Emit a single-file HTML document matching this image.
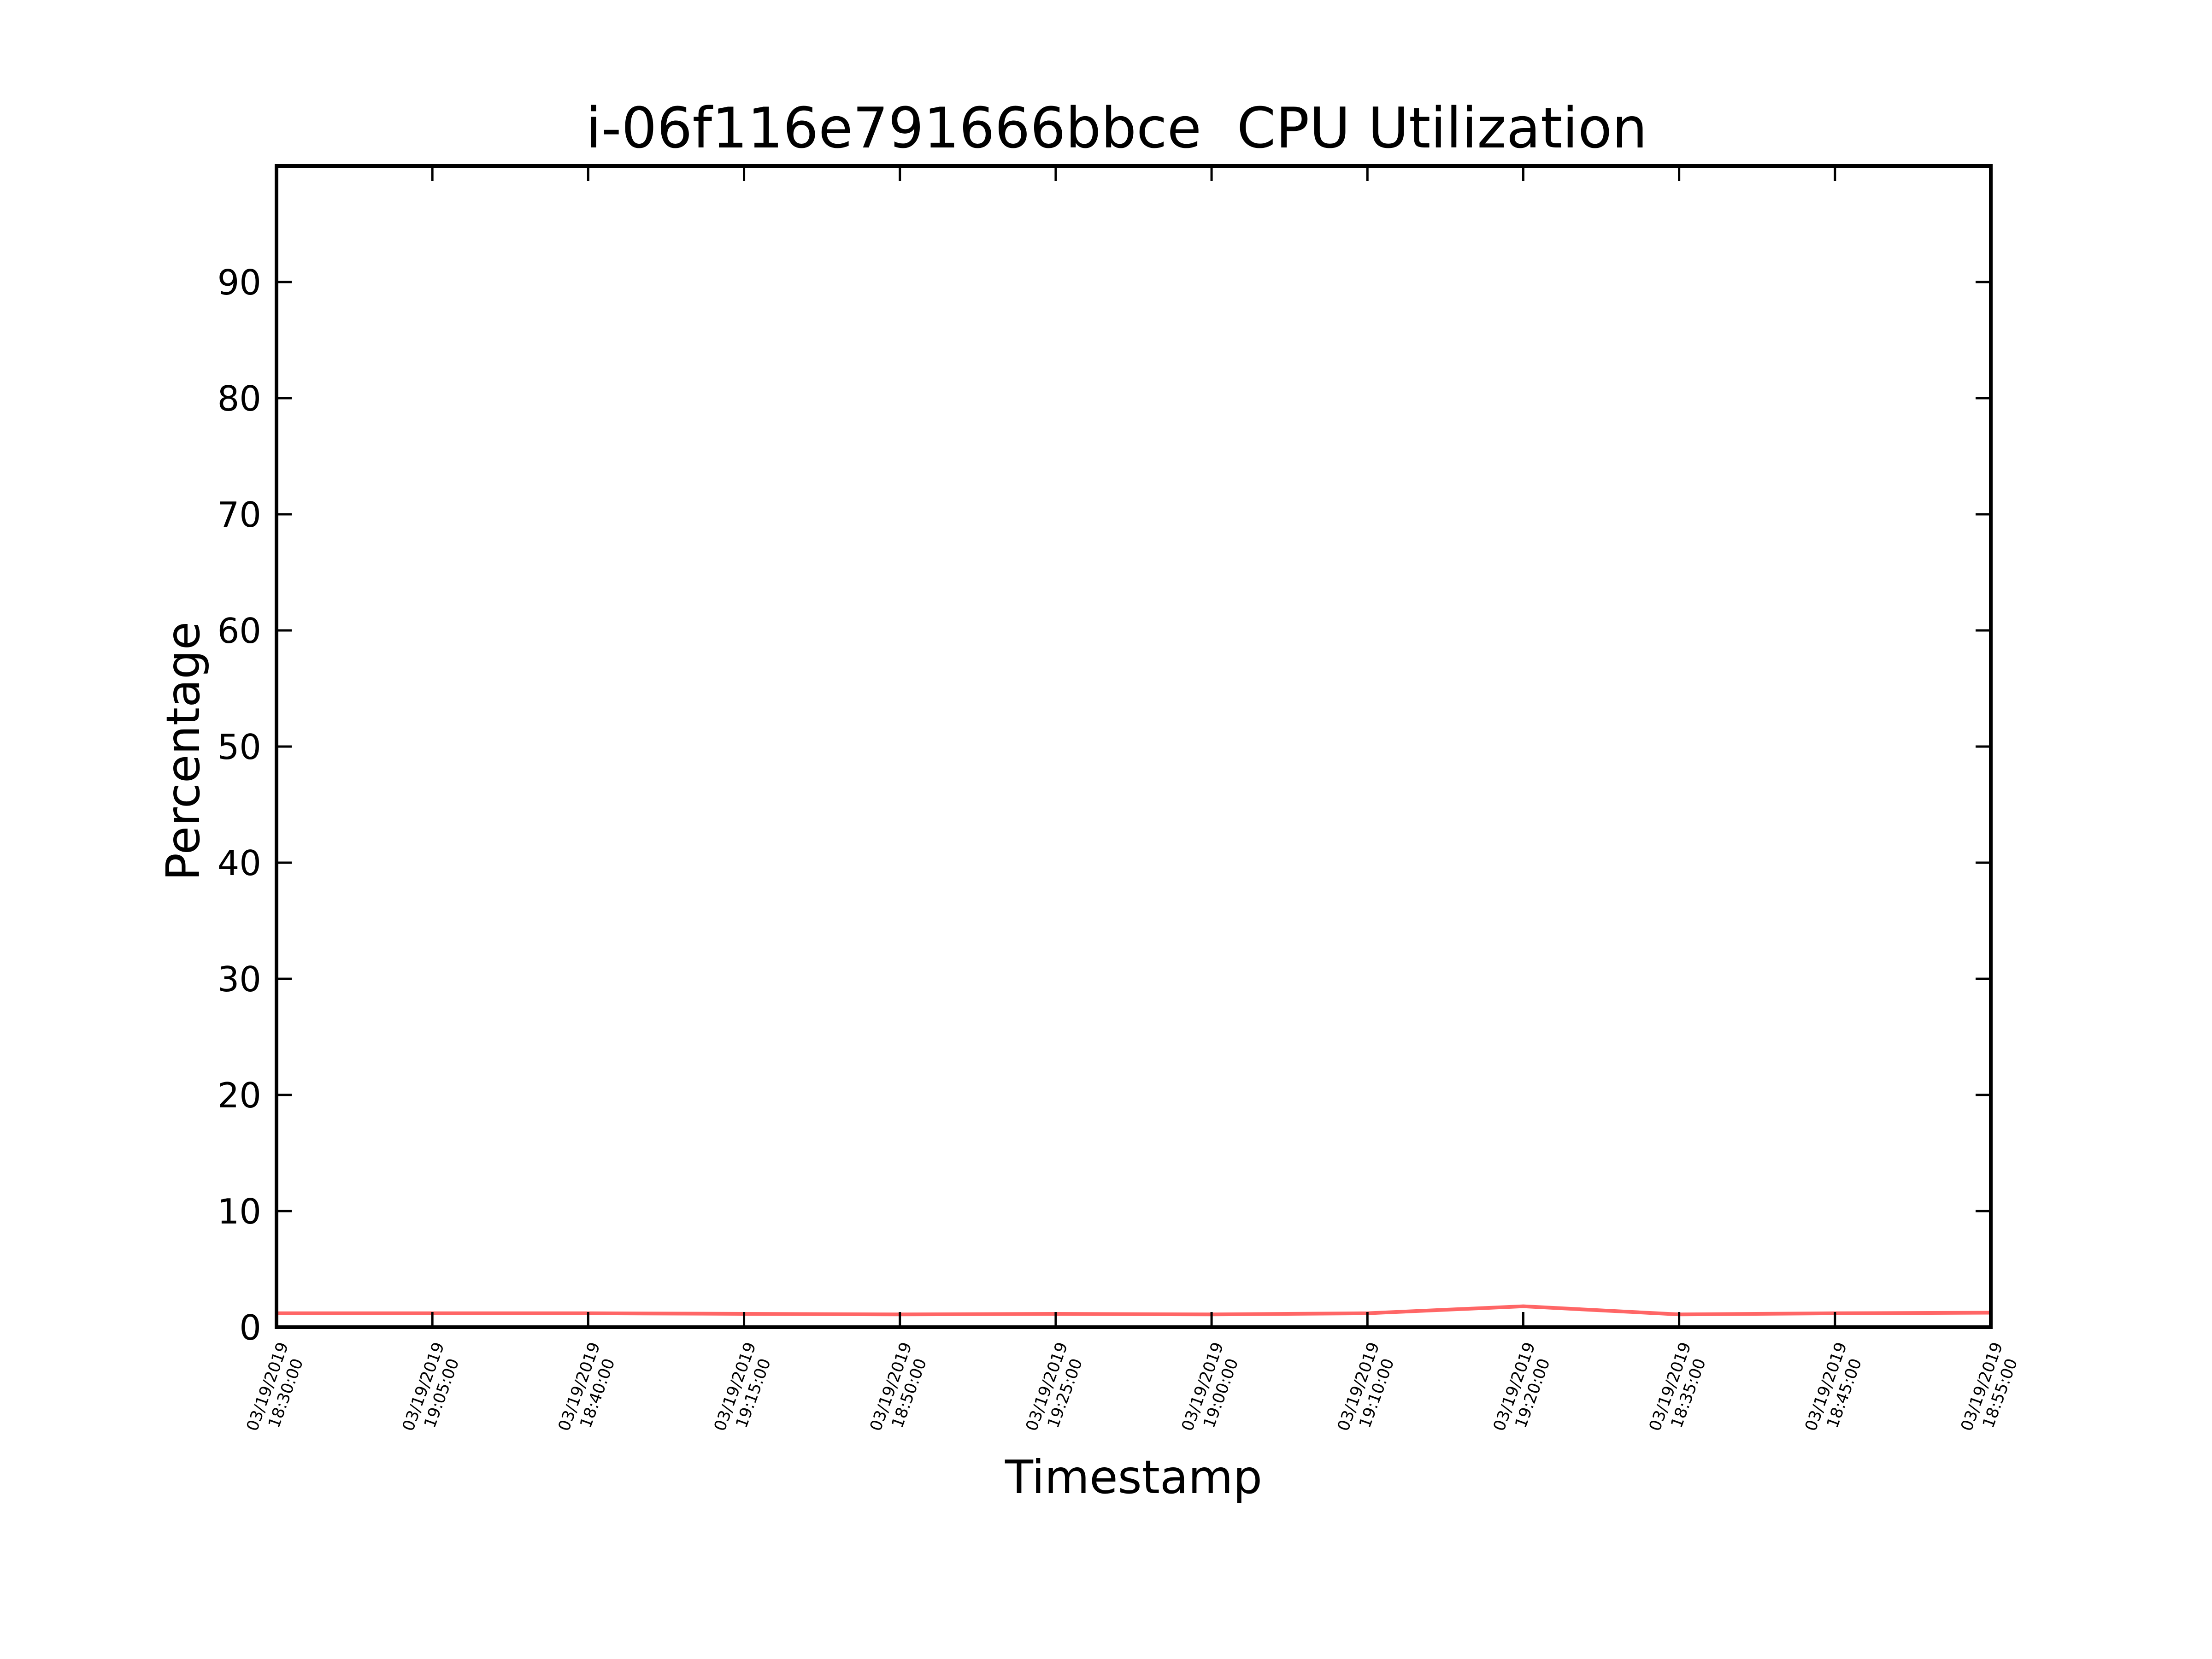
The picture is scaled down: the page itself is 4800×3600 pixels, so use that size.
<!DOCTYPE html>
<html><head><meta charset="utf-8">
<style>
html,body{margin:0;padding:0;background:#fff;}
svg{display:block;font-family:"DejaVu Sans","Liberation Sans",sans-serif;}
.pre{white-space:pre;}
</style></head>
<body>
<svg id="chart" width="4800" height="3600" viewBox="0 0 4800 3600" xmlns="http://www.w3.org/2000/svg">
<rect x="0" y="0" width="4800" height="3600" fill="#fff"/>
<text class="pre" xml:space="preserve" x="2423" y="320" font-size="121" text-anchor="middle">i-06f116e791666bbce  CPU Utilization</text>
<text x="2460" y="3240" font-size="100" text-anchor="middle">Timestamp</text>
<text transform="translate(432,1630) rotate(-90)" x="0" y="0" font-size="100" text-anchor="middle">Percentage</text>
<g id="plot"></g>
</svg>
<script>
const categories = ["18:30:00","19:05:00","18:40:00","19:15:00","18:50:00","19:25:00","19:00:00","19:10:00","19:20:00","18:35:00","18:45:00","18:55:00"];
const dateLabel = "03/19/2019";
const cpuValues = [1.2,1.2,1.2,1.15,1.1,1.15,1.1,1.2,1.8,1.1,1.2,1.25];
const yTicks = [0,10,20,30,40,50,60,70,80,90];

const L=600,R=4320,T=360,B=2880,YMAX=100;
const NS="http://www.w3.org/2000/svg";
const g=document.getElementById('plot');
function xs(i){return L+(R-L)*i/(categories.length-1);}
function ys(v){return B-(B-T)*v/YMAX;}
function mk(tag,attrs){const e=document.createElementNS(NS,tag);for(const k in attrs)e.setAttribute(k,attrs[k]);g.appendChild(e);return e;}

let d=cpuValues.map((v,i)=>(i?'L':'M')+xs(i)+','+ys(v)).join(' ');
const line=mk('path',{d:d,fill:'none',stroke:'#ff6666','stroke-width':8,'stroke-linejoin':'round'});



yTicks.forEach(v=>{
  const y=ys(v);
  const t1=mk('line',{x1:L,x2:L+33,y1:y,y2:y,stroke:'#000','stroke-width':5});
  
  
  const t2=mk('line',{x1:R,x2:R-33,y1:y,y2:y,stroke:'#000','stroke-width':5});
  
  
  const lb=mk('text',{x:L-33,y:y+27,'font-size':75,'text-anchor':'end'});
  lb.textContent=v;
  
  
});

categories.forEach((c,i)=>{
  const x=xs(i);
  const t1=mk('line',{x1:x,x2:x,y1:B,y2:B-33,stroke:'#000','stroke-width':5});
  
  
  const t2=mk('line',{x1:x,x2:x,y1:T,y2:T+33,stroke:'#000','stroke-width':5});
  
  
  const lb=mk('text',{transform:'translate('+x+',3016) rotate(-70)','font-size':35,'text-anchor':'middle'});
  
  
  const s1=document.createElementNS(NS,'tspan');s1.setAttribute('x',0);s1.setAttribute('y',-9);s1.textContent=dateLabel;lb.appendChild(s1);
  const s2=document.createElementNS(NS,'tspan');s2.setAttribute('x',0);s2.setAttribute('y',33);s2.textContent=c;lb.appendChild(s2);
});

const frame=mk('rect',{x:L,y:T,width:R-L,height:B-T,fill:'none',stroke:'#000','stroke-width':8});


</script>
</body></html>
